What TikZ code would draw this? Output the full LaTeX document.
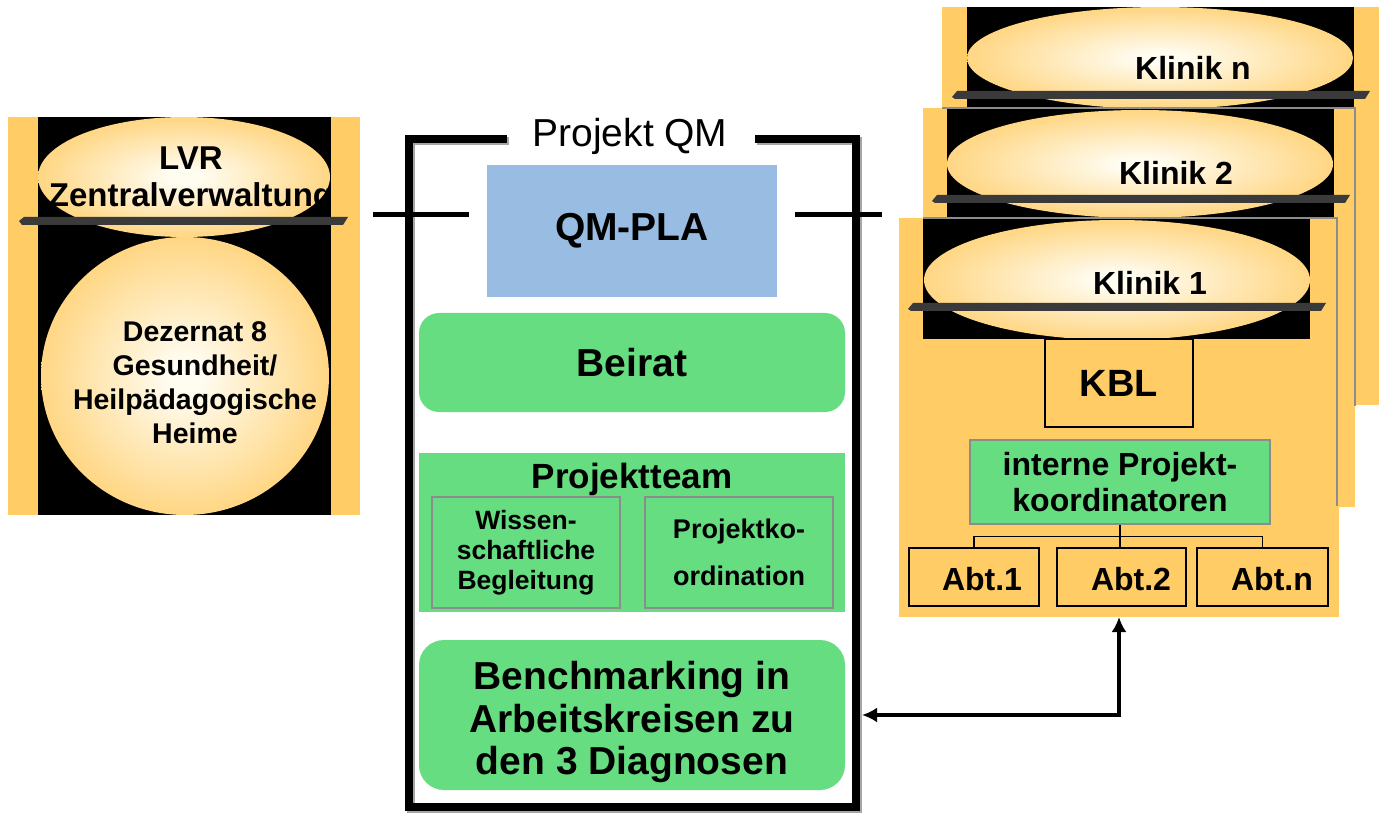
\documentclass[tikz,border=0pt]{standalone}
\usepackage{fontspec}
\setmainfont{Liberation Sans}
\usetikzlibrary{arrows.meta,shapes.geometric,calc}
\definecolor{orangeC}{HTML}{FFCC66}
\definecolor{greenC}{HTML}{66DD80}
\definecolor{blueC}{HTML}{99BDE2}
\definecolor{grayB}{HTML}{8C8C8C}
\definecolor{barC}{HTML}{3A3A3A}
\definecolor{glowC}{HTML}{FFFCF0}
\pgfdeclareradialshading{glow}{\pgfpoint{0bp}{0bp}}{color(0bp)=(glowC); color(3bp)=(glowC); color(31bp)=(orangeC); color(50bp)=(orangeC)}
\newcommand\fbig{\fontsize{39}{42.5}\selectfont\bfseries}
\newcommand\fmid{\fontsize{32}{36}\selectfont\bfseries}
\begin{document}
\begin{tikzpicture}[x=1pt,y=-1pt,
  panel/.style={rectangle,fill=orangeC,draw=none,inner sep=0pt,outer sep=0pt},
  innerbox/.style={rectangle,fill=black,draw=none,inner sep=0pt,outer sep=0pt},
  glowell/.style={ellipse,shading=glow,draw=none,inner sep=0pt,outer sep=0pt},
  bar/.style={fill=barC},
  greenbox/.style={rectangle,fill=greenC,draw=none,inner sep=0pt,rounded corners=20pt},
  subbox/.style={rectangle,fill=greenC,draw=grayB,line width=1.5pt,inner sep=0pt},
  linebox/.style={rectangle,draw=black,line width=1.5pt,inner sep=0pt},
  grayline/.style={draw=grayB,line width=2pt},
  frameline/.style={line width=8pt,line join=miter},
  crossline/.style={line width=5pt}]
\useasboundingbox (0,0) rectangle (1379,818);

% ---------- left panel ----------
\node[panel,minimum width=352,minimum height=398] (lvrpanel) at (184,316) {};
\node[innerbox,minimum width=293,minimum height=398] (lvrinner) at (184.5,316) {};
\node[glowell,minimum width=292,minimum height=120] (lvr) at (184,177) {};
\node[glowell,minimum width=288,minimum height=278] (dez) at (185,376) {};
\begin{scope}
  \clip (38,117) rectangle (331,515);
  \node[font=\fontsize{33}{37}\selectfont\bfseries,align=center] (lvrT) at (191,180.5) {LVR\\Zentralverwaltung};
\end{scope}
\fill[bar] (19,221) -- (24,217) -- (348,217) -- (343,225) -- (22,225) -- cycle;
\node[font=\fontsize{28.5}{34}\selectfont\bfseries,align=center] (dezT) at (195,383) {Dezernat 8\\Gesundheit/\\Heilpädagogische\\Heime};

% ---------- Projekt QM frame ----------
\draw[frameline,color=gray!70] (509,141) -- (411,141) -- (411,809) -- (858,809) -- (858,141) -- (757,141);
\draw[frameline,color=black] (507,139) -- (409,139) -- (409,807) -- (856,807) -- (856,139) -- (755,139);
\node[font=\fontsize{39}{42}\selectfont,anchor=base] (pqm) at (630,147) {Projekt QM};
\coordinate (cl1) at (373,215);
\coordinate (cl2) at (469,215);
\coordinate (cr1) at (795,215);
\coordinate (cr2) at (882,215);
\draw[crossline] (cl1) -- (cl2);
\draw[crossline] (cr1) -- (cr2);

\node[rectangle,fill=blueC,inner sep=0pt,minimum width=290,minimum height=132,font=\fbig] (qmpla) at (632,231) {QM-PLA};
\node[greenbox,minimum width=426,minimum height=99,font=\fbig] (beirat) at (632,362.5) {Beirat};
\node[rectangle,fill=greenC,inner sep=0pt,minimum width=426,minimum height=159] (pteam) at (632,532.5) {};
\node[font=\fontsize{35}{40}\selectfont\bfseries,anchor=base] (pteamT) at (632,488) {Projektteam};
\node[subbox,minimum width=188,minimum height=111,align=center,font=\fontsize{26.5}{30}\selectfont\bfseries] (wiss) at (526,552.5) {Wissen-\\schaftliche\\Begleitung};
\node[subbox,minimum width=188,minimum height=111,align=center,font=\fontsize{27}{47}\selectfont\bfseries] (pkoord) at (739,552.5) {Projektko-\\ordination};
\node[greenbox,rounded corners=25pt,minimum width=426,minimum height=150] (bench) at (632,715) {};
\node[font=\fbig,align=center] (benchT) at (632,722) {Benchmarking in\\Arbeitskreisen zu\\den 3 Diagnosen};

% ---------- Klinik n ----------
\node[panel,minimum width=437,minimum height=398] (knpanel) at (1160.5,206) {};
\node[innerbox,minimum width=387,minimum height=398] (kninner) at (1160.5,206) {};
\node[glowell,minimum width=386,minimum height=102] (kn) at (1160,58) {};
\fill[bar] (952,97) -- (957,91) -- (1370,91) -- (1365,99) -- (955,99) -- cycle;
\node[font=\fmid,anchor=base] (knT) at (1193,80) {Klinik n};

% ---------- Klinik 2 ----------
\node[panel,minimum width=432,minimum height=399] (k2panel) at (1139,307.5) {};
\node[innerbox,minimum width=387,minimum height=399] (k2inner) at (1140.5,307.5) {};
\node[glowell,minimum width=386,minimum height=108] (k2) at (1140,164) {};
\fill[bar] (932,201) -- (937,195) -- (1350,195) -- (1345,203) -- (935,203) -- cycle;
\node[font=\fmid,anchor=base] (k2T) at (1176,185) {Klinik 2};
\draw[grayline] (942,108) -- (1355,108) -- (1355,406);

% ---------- Klinik 1 ----------
\node[panel,minimum width=440,minimum height=399] (k1panel) at (1119,417.5) {};
\node[innerbox,minimum width=387,minimum height=121] (k1inner) at (1116.5,278.5) {};
\begin{scope}
  \clip (923,218) rectangle (1310,339);
  \node[glowell,minimum width=386,minimum height=120] (k1) at (1117,280) {};
\end{scope}
\fill[bar] (908,309) -- (913,303) -- (1326,303) -- (1321,311) -- (911,311) -- cycle;
\node[font=\fmid,anchor=base] (k1T) at (1150,295) {Klinik 1};
\draw[grayline] (923,218) -- (1337,218) -- (1337,506);

\node[linebox,minimum width=148,minimum height=88,font=\fontsize{38}{42}\selectfont\bfseries] (kbl) at (1119,383) {KBL};
\node[subbox,minimum width=300,minimum height=84,align=center,font=\fmid] (ipk) at (1120,482) {interne Projekt-\\koordinatoren};
\node[linebox,minimum width=130,minimum height=58] (abt1) at (974,577) {};
\node[linebox,minimum width=129,minimum height=58] (abt2) at (1121.5,577) {};
\node[linebox,minimum width=131,minimum height=58] (abtn) at (1262.5,577) {};
\node[font=\fmid,anchor=base] (abt1T) at (982,590) {Abt.1};
\node[font=\fmid,anchor=base] (abt2T) at (1131,590) {Abt.2};
\node[font=\fmid,anchor=base] (abtnT) at (1272,590) {Abt.n};
\draw[line width=1.5pt] (ipk.south) -- (ipk.south |- abt2.north);
\draw[line width=1.5pt] (abt1.north) -- ++(0,-11) -| (abtn.north);

% ---------- arrow ----------
\coordinate (frameR) at (862,715);
\draw[line width=4pt,{Latex[length=15pt,width=15pt]}-{Latex[length=15pt,width=15pt]}] (frameR) -| (k1panel.south);
\end{tikzpicture}
\end{document}
